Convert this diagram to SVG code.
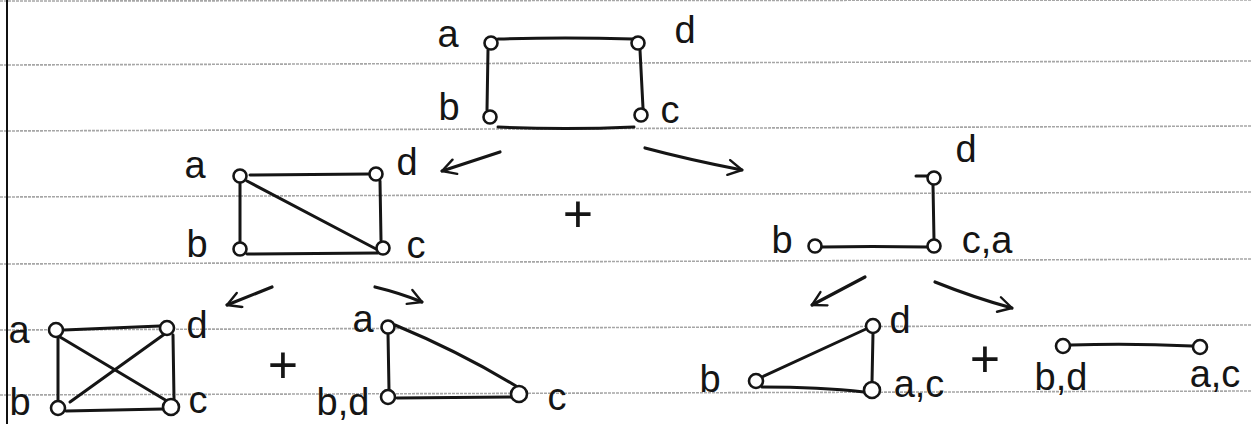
<svg xmlns="http://www.w3.org/2000/svg" width="1251" height="424" viewBox="0 0 1251 424">
<style>
.rule{stroke:#a6a6a6;stroke-width:1.6;stroke-dasharray:3 1;fill:none}
.margin{stroke:#111;stroke-width:2;fill:none}
.e{stroke:#151515;stroke-width:3;fill:none;stroke-linecap:round;stroke-linejoin:round}
.arr{stroke:#151515;stroke-width:3.2;fill:none;stroke-linecap:round;stroke-linejoin:round}
.n{stroke:#151515;stroke-width:2.6;fill:#fff}
.lbl{font-family:"Liberation Sans",Arial,sans-serif;font-size:38px;fill:#151515;text-anchor:middle}
.plus{font-family:"Liberation Sans",Arial,sans-serif;font-size:52px;fill:#151515;text-anchor:middle}
</style>
<defs>
<marker id="ah2" viewBox="0 0 24 24" refX="21" refY="12" markerWidth="18" markerHeight="18" orient="auto" markerUnits="userSpaceOnUse">
<path d="M3,2 L21,12 L3,22" fill="none" stroke="#151515" stroke-width="3.2" stroke-linecap="round" stroke-linejoin="round"/>
</marker>
</defs>
<rect width="1251" height="424" fill="#fff"/>
<g id="paper">
<line class="rule" x1="0" y1="1" x2="1251" y2="0"/>
<line class="rule" x1="0" y1="65" x2="1251" y2="61"/>
<line class="rule" x1="0" y1="131" x2="1251" y2="126"/>
<line class="rule" x1="0" y1="197" x2="1251" y2="192"/>
<line class="rule" x1="0" y1="264" x2="1251" y2="259"/>
<line class="rule" x1="0" y1="330" x2="1251" y2="325"/>
<line class="rule" x1="0" y1="395" x2="1251" y2="391"/>
<line class="margin" x1="7" y1="0" x2="7" y2="424"/>
</g>
<g id="connectors">
<!-- top graph -->
<path class="e" d="M498,39 Q565,37 633,39"/>
<path class="e" d="M488,50 L487,110"/>
<path class="e" d="M640,50 L643,108"/>
<path class="e" d="M498,127 Q565,130 634,127"/>
<!-- middle-left graph -->
<path class="e" d="M250,175 L370,174"/>
<path class="e" d="M240,183 L240,242"/>
<path class="e" d="M380,181 L381,240"/>
<path class="e" d="M247,181 L378,250"/>
<path class="e" d="M247,254 L378,253"/>
<!-- bottom-left K4 -->
<path class="e" d="M64,330 Q110,328 160,326"/>
<path class="e" d="M58,337 L58,401"/>
<path class="e" d="M173,335 L174,399"/>
<path class="e" d="M60,337 L167,401"/>
<path class="e" d="M70,402 L166,333"/>
<path class="e" d="M66,411 Q115,410 163,409"/>
<!-- bottom-middle triangle -->
<path class="e" d="M388,333 L389,390"/>
<path class="e" d="M395,325 Q460,352 516,386"/>
<path class="e" d="M397,398 L511,397"/>
<!-- middle-right graph -->
<path class="e" d="M916,176 L928,176"/>
<path class="e" d="M933,185 L934,240"/>
<path class="e" d="M822,247 Q870,246 927,247"/>
<!-- bottom-right triangle -->
<path class="e" d="M762,377 L866,329"/>
<path class="e" d="M873,333 L872,382"/>
<path class="e" d="M762,387 Q820,387 864,392"/>
<!-- bottom-right edge -->
<path class="e" d="M1071,345 Q1130,343 1192,346"/>
<!-- arrows -->
<path class="arr" d="M500,152 L442,171" marker-end="url(#ah2)"/>
<path class="arr" d="M645,148 Q690,160 742,170" marker-end="url(#ah2)"/>
<path class="arr" d="M272,287 L227,305" marker-end="url(#ah2)"/>
<path class="arr" d="M375,287 Q400,293 422,302" marker-end="url(#ah2)"/>
<path class="arr" d="M865,277 L812,305" marker-end="url(#ah2)"/>
<path class="arr" d="M935,282 Q975,298 1012,308" marker-end="url(#ah2)"/>
</g>
<g id="top-graph">
<circle class="n" cx="491" cy="43" r="6.5"/>
<circle class="n" cx="638" cy="43" r="6.5"/>
<circle class="n" cx="490" cy="117" r="6.5"/>
<circle class="n" cx="641" cy="115" r="6.5"/>
<text class="lbl" x="448" y="47">a</text>
<text class="lbl" x="685" y="43">d</text>
<text class="lbl" x="449" y="120">b</text>
<text class="lbl" x="670" y="123">c</text>
</g>
<g id="mid-left-graph">
<circle class="n" cx="240" cy="176" r="6.5"/>
<circle class="n" cx="376" cy="174" r="6.5"/>
<circle class="n" cx="240" cy="249" r="6.5"/>
<circle class="n" cx="383" cy="248" r="6.5"/>
<text class="lbl" x="195" y="178">a</text>
<text class="lbl" x="407" y="175">d</text>
<text class="lbl" x="197" y="257">b</text>
<text class="lbl" x="416" y="258">c</text>
</g>
<g id="bottom-left-graph">
<circle class="n" cx="56" cy="330" r="7"/>
<circle class="n" cx="167" cy="328" r="7"/>
<circle class="n" cx="58" cy="408" r="7"/>
<circle class="n" cx="171" cy="407" r="8"/>
<text class="lbl" x="19" y="343">a</text>
<text class="lbl" x="197" y="338">d</text>
<text class="lbl" x="20" y="415">b</text>
<text class="lbl" x="198" y="413">c</text>
</g>
<g id="bottom-mid-graph">
<circle class="n" cx="388" cy="327" r="6.5"/>
<circle class="n" cx="388" cy="397" r="7"/>
<circle class="n" cx="519" cy="394" r="8"/>
<text class="lbl" x="363" y="332">a</text>
<text class="lbl" x="343" y="415">b,d</text>
<text class="lbl" x="557" y="410">c</text>
</g>
<g id="mid-right-graph">
<circle class="n" cx="934" cy="178" r="6.5"/>
<circle class="n" cx="934" cy="246" r="6.5"/>
<circle class="n" cx="815" cy="246" r="6.5"/>
<text class="lbl" x="966" y="162">d</text>
<text class="lbl" x="782" y="253">b</text>
<text class="lbl" x="987" y="253">c,a</text>
</g>
<g id="bottom-right-triangle">
<circle class="n" cx="873" cy="326" r="7"/>
<circle class="n" cx="872" cy="390" r="8"/>
<circle class="n" cx="756" cy="381" r="7"/>
<text class="lbl" x="710" y="392">b</text>
<text class="lbl" x="900" y="333">d</text>
<text class="lbl" x="919" y="397">a,c</text>
</g>
<g id="bottom-right-edge">
<circle class="n" cx="1063" cy="346" r="7"/>
<circle class="n" cx="1200" cy="347" r="7"/>
<text class="lbl" x="1061" y="390">b,d</text>
<text class="lbl" x="1215" y="387">a,c</text>
</g>
<g id="plus-signs">
<text class="plus" x="578" y="232">+</text>
<text class="plus" x="283" y="383">+</text>
<text class="plus" x="985" y="377">+</text>
</g>
</svg>
